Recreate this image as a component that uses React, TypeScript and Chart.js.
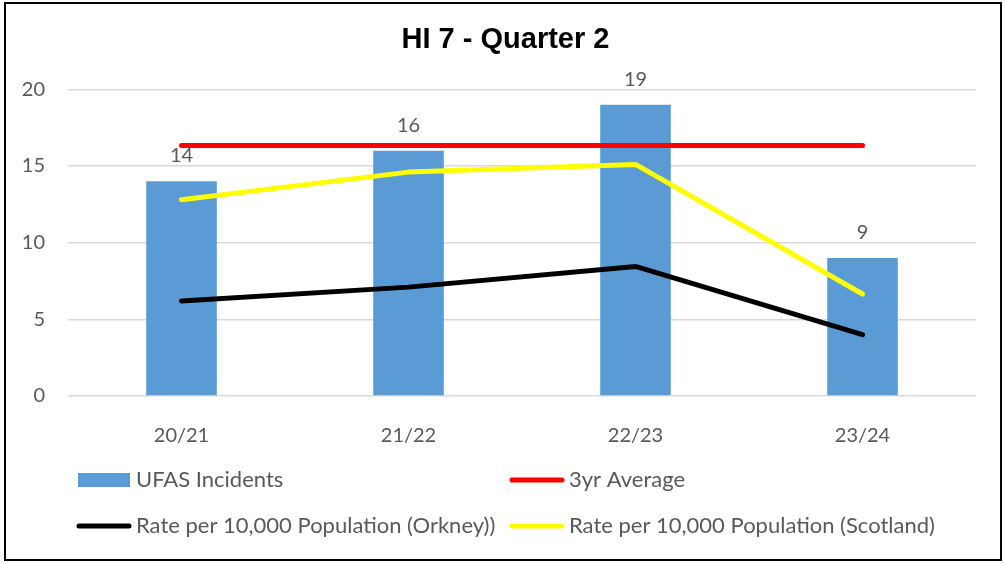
import { useEffect, useRef } from "react";
import { Chart, registerables } from "chart.js";

Chart.register(...registerables);

const categories = ["20/21", "21/22", "22/23", "23/24"];
const ufasIncidents = [14, 16, 19, 9];
const threeYearAverage = [16.33, 16.33, 16.33, 16.33];
const rateOrkney = [6.2, 7.1, 8.45, 4.0];
const rateScotland = [12.8, 14.6, 15.1, 6.65];
const yAxisMin = 0;
const yAxisMax = 20;
const yAxisStep = 5;
const chartTitle = "HI 7 - Quarter 2";

const TEXT_COLOR = "#595959";
const GRID_COLOR = "#D9D9D9";
const FONT_FAMILY = "Lato";
const LABEL_SIZE = 20;
const LEGEND_SIZE = 22;

const borderPlugin = {
  id: "outerBorder",
  beforeDraw(chart: any) {
    const { ctx, width, height } = chart;
    ctx.save();
    ctx.fillStyle = "#ffffff";
    ctx.fillRect(0, 0, width, height);
    ctx.restore();
  },
  afterDraw(chart: any) {
    const { ctx, width } = chart;
    ctx.save();
    ctx.strokeStyle = "#000000";
    ctx.lineWidth = 2;
    ctx.strokeRect(5, 3, 996, 557);
    ctx.fillStyle = "#000000";
    ctx.font = `bold 29px "Liberation Sans"`;
    ctx.textAlign = "center";
    ctx.textBaseline = "middle";
    ctx.fillText(chartTitle, width / 2 + 3, 40);
    ctx.restore();
  },
};

const barLabelPlugin = {
  id: "barLabels",
  afterDatasetsDraw(chart: any) {
    const { ctx } = chart;
    const meta = chart.getDatasetMeta(0);
    const data = chart.data.datasets[0].data;
    ctx.save();
    ctx.fillStyle = TEXT_COLOR;
    ctx.font = `${LABEL_SIZE}px ${FONT_FAMILY}`;
    ctx.textAlign = "center";
    ctx.textBaseline = "alphabetic";
    meta.data.forEach((el: any, i: number) => {
      ctx.fillText(String(data[i]), el.x, el.y - 19);
    });
    ctx.restore();
  },
};

const customLegendPlugin = {
  id: "customLegend",
  afterDraw(chart: any) {
    const { ctx, chartArea } = chart;
    const ds = chart.data.datasets;
    const cols = [chartArea.left + 10, chartArea.left + 443];
    const rows = [chartArea.bottom + 84, chartArea.bottom + 130];
    const swatchW = 52;
    ctx.save();
    ds.forEach((d: any, i: number) => {
      const x = cols[i % 2];
      const y = rows[Math.floor(i / 2)];
      if (d.type === "line") {
        ctx.strokeStyle = d.borderColor;
        ctx.lineWidth = 5;
        ctx.lineCap = "round";
        ctx.beginPath();
        ctx.moveTo(x + 1, y);
        ctx.lineTo(x + swatchW - 1, y);
        ctx.stroke();
      } else {
        ctx.fillStyle = d.backgroundColor;
        ctx.fillRect(x, y - 7, swatchW, 14);
      }
      ctx.fillStyle = TEXT_COLOR;
      ctx.font = `${LEGEND_SIZE}px ${FONT_FAMILY}`;
      ctx.textAlign = "left";
      ctx.textBaseline = "middle";
      ctx.fillText(d.label, x + swatchW + 6, y);
    });
    ctx.restore();
  },
};

export default function App() {
  const canvasRef = useRef<HTMLCanvasElement | null>(null);

  useEffect(() => {
    if (!canvasRef.current) return;
    const chart = new Chart(canvasRef.current, {
      type: "bar",
      data: {
        labels: categories,
        datasets: [
          {
            type: "bar",
            label: "UFAS Incidents",
            data: ufasIncidents,
            backgroundColor: "#5B9BD5",
            borderWidth: 0,
            barPercentage: 0.311,
            categoryPercentage: 1,
            order: 10,
          } as any,
          {
            type: "line",
            label: "3yr Average",
            data: threeYearAverage,
            borderColor: "#FF0000",
            backgroundColor: "#FF0000",
            borderWidth: 5,
            pointRadius: 0,
            borderCapStyle: "round",
            borderJoinStyle: "round",
            tension: 0,
            order: 1,
          },
          {
            type: "line",
            label: "Rate per 10,000 Population (Orkney))",
            data: rateOrkney,
            borderColor: "#000000",
            backgroundColor: "#000000",
            borderWidth: 5,
            pointRadius: 0,
            borderCapStyle: "round",
            borderJoinStyle: "round",
            tension: 0,
            order: 3,
          },
          {
            type: "line",
            label: "Rate per 10,000 Population (Scotland)",
            data: rateScotland,
            borderColor: "#FFFF00",
            backgroundColor: "#FFFF00",
            borderWidth: 5,
            pointRadius: 0,
            borderCapStyle: "round",
            borderJoinStyle: "round",
            tension: 0,
            order: 2,
          },
        ],
      },
      options: {
        responsive: false,
        animation: false,
        devicePixelRatio: 1,
        layout: { padding: { left: 0, right: 29, top: 89.3, bottom: 117 } },
        plugins: {
          legend: { display: false },
          tooltip: { enabled: false },
          title: { display: false },
        },
        scales: {
          x: {
            grid: { display: false },
            border: { display: false },
            ticks: {
              color: TEXT_COLOR,
              font: { family: FONT_FAMILY, size: LABEL_SIZE },
              padding: 20,
            },
            afterFit: (s: any) => {
              s.height = 50;
            },
          },
          y: {
            min: yAxisMin,
            max: yAxisMax,
            border: { display: false },
            grid: { color: GRID_COLOR, lineWidth: 1.5, drawTicks: false },
            ticks: {
              stepSize: yAxisStep,
              color: TEXT_COLOR,
              font: { family: FONT_FAMILY, size: LABEL_SIZE },
              padding: 23,
            },
            afterFit: (s: any) => {
              s.width = 68;
            },
          },
        },
      },
      plugins: [borderPlugin, barLabelPlugin, customLegendPlugin],
    });
    return () => chart.destroy();
  }, []);

  return (
    <div style={{ position: "absolute", left: 0, top: 0, width: 1005, height: 563 }}>
      <canvas ref={canvasRef} width={1005} height={563} />
    </div>
  );
}
